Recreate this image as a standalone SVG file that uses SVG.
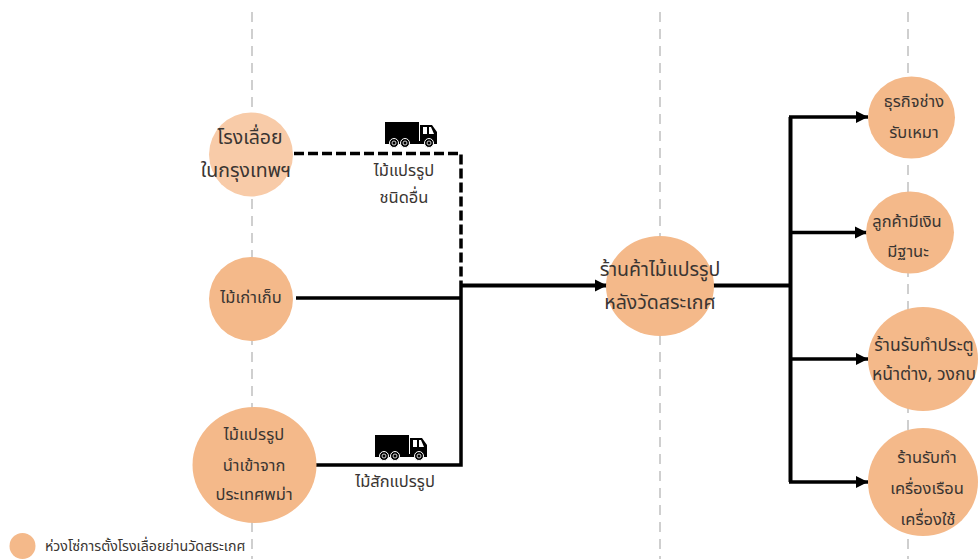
<svg xmlns="http://www.w3.org/2000/svg" width="978" height="559" viewBox="0 0 978 559">
<style>
.g{fill:none;stroke:#cfcfcf;stroke-width:2;stroke-dasharray:10 7}
.n{fill:#f4b98a}
.c{fill:none;stroke:#000;stroke-width:3.500}
.t{font-family:"Noto Sans Thai","Noto Sans","DejaVu Sans","Liberation Sans",sans-serif;fill:#3a3532;text-anchor:middle;font-size:16.500px}
.b{font-size:19.500px}
</style>
<defs>
<marker id="a" markerUnits="userSpaceOnUse" markerWidth="14" markerHeight="14" refX="12" refY="7" orient="auto"><path d="M0 1L12 7L0 13Z" fill="#000"/></marker>
<g id="truck">
<path d="M0 0H34V20H0ZM35 3H47L52 10V22H35Z" fill="#000"/>
<path d="M38 5H42V12H38ZM44 5H46L49 12H44Z" fill="#fff"/>
<path d="M0 19H52V22H0Z" fill="#000"/>
<g fill="#000" stroke="#fff" stroke-width="1"><circle cx="9" cy="21" r="4.500"/><circle cx="20" cy="21" r="4.500"/><circle cx="44" cy="21" r="4.500"/></g>
<g fill="none" stroke="#fff" stroke-width="0.800"><circle cx="9" cy="21" r="2"/><circle cx="20" cy="21" r="2"/><circle cx="44" cy="21" r="2"/></g>
</g>
</defs>
<g id="guides">
<path class="g" d="M252 12V559M660 12V559M908 12V559"/>
</g>
<g id="connectors">
<path class="c" d="M294 153.500H461V284" stroke-dasharray="10 4"/>
<path class="c" d="M296 298H461"/>
<path class="c" d="M316 465H461V284"/>
<path class="c" d="M461 285.500H607" marker-end="url(#a)" style="stroke-width:4"/>
<path class="c" d="M713 285.500H791" style="stroke-width:4"/>
<path class="c" d="M790.500 117V482" style="stroke-width:4"/>
<path class="c" d="M789 117H868" marker-end="url(#a)"/>
<path class="c" d="M791 232.500H867" marker-end="url(#a)"/>
<path class="c" d="M791 359H868" marker-end="url(#a)"/>
<path class="c" d="M789 482H868" marker-end="url(#a)"/>
</g>
<g id="sawmill"><circle class="n" cx="251" cy="154.500" r="42" style="fill:#f8cba8"/><text class="t b" x="250" y="144">โรงเลื่อย</text><text class="t b" x="246" y="177">ในกรุงเทพฯ</text></g>
<g id="old-wood"><circle class="n" cx="251" cy="299" r="42"/><text class="t" x="251" y="303">ไม้เก่าเก็บ</text></g>
<g id="burma"><ellipse class="n" cx="254.500" cy="465" rx="62" ry="58"/><text class="t" x="254" y="440">ไม้แปรรูป</text><text class="t" x="254" y="471">นำเข้าจาก</text><text class="t" x="254" y="500">ประเทศพม่า</text></g>
<g id="shop"><ellipse class="n" cx="660" cy="286" rx="54" ry="50"/><text class="t b" x="660" y="276">ร้านค้าไม้แปรรูป</text><text class="t b" x="660" y="309">หลังวัดสระเกศ</text></g>
<g id="r1"><ellipse class="n" cx="911.500" cy="117.500" rx="43.500" ry="41"/><text class="t" x="914" y="107">ธุรกิจช่าง</text><text class="t" x="914" y="138">รับเหมา</text></g>
<g id="r2"><ellipse class="n" cx="910" cy="232.500" rx="44" ry="41"/><text class="t" x="907" y="227">ลูกค้ามีเงิน</text><text class="t" x="908" y="257">มีฐานะ</text></g>
<g id="r3"><ellipse class="n" cx="923" cy="359" rx="55" ry="52"/><text class="t" x="924" y="351" style="font-size:17.500px">ร้านรับทำประตู</text><text class="t" x="924" y="380" style="font-size:17.500px">หน้าต่าง, วงกบ</text></g>
<g id="r4"><ellipse class="n" cx="923" cy="482" rx="55" ry="54"/><text class="t" x="927" y="463">ร้านรับทำ</text><text class="t" x="927" y="494">เครื่องเรือน</text><text class="t" x="928" y="525">เครื่องใช้</text></g>
<g id="truck1"><use href="#truck" x="385" y="122"/></g>
<g id="label1"><text class="t" x="404" y="176">ไม้แปรรูป</text><text class="t" x="404" y="203">ชนิดอื่น</text></g>
<g id="truck2"><use href="#truck" x="375" y="435"/></g>
<g id="label2"><text class="t" x="395" y="487">ไม้สักแปรรูป</text></g>
<g id="legend"><circle class="n" cx="22.500" cy="546" r="13"/><text class="t" x="45" y="551" style="text-anchor:start;font-size:14.200px">ห่วงโซ่การตั้งโรงเลื่อยย่านวัดสระเกศ</text></g>
</svg>
